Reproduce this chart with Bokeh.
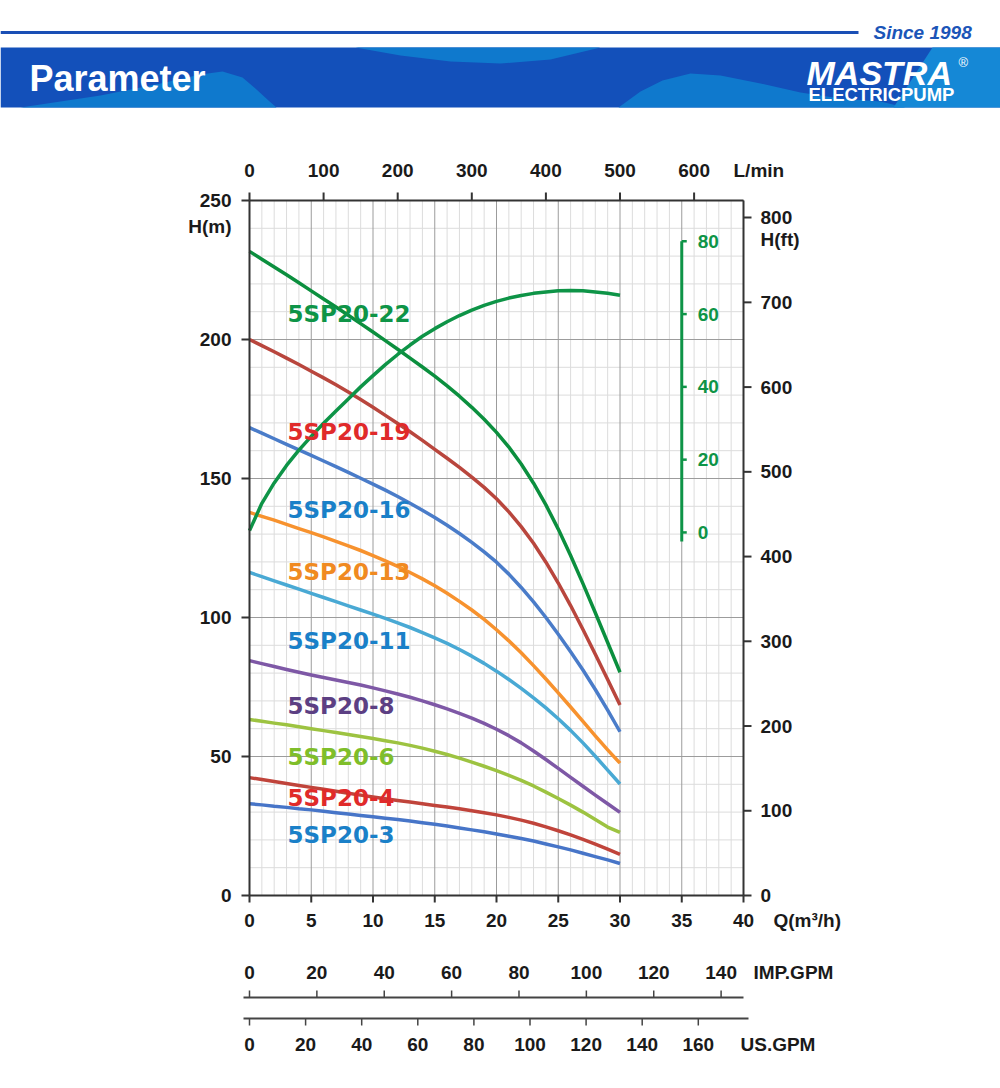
from bokeh.plotting import figure
from bokeh.models import Range1d
from bokeh.embed import file_html
from bokeh.resources import INLINE
from bokeh.core.properties import value

# ---------------- data ----------------
flow = list(range(0, 31))  # Q, m3/h
head_22 = [231.7, 228.9, 226.1, 223.3, 220.4, 217.5, 214.6, 211.7, 208.7, 205.7, 202.7, 199.6, 196.5, 193.3, 190.1, 186.8,
           183.3, 179.6, 175.6, 171.3, 166.6, 161.3, 155.2, 148.3, 140.5, 131.8, 122.3, 112.2, 101.7, 91.0, 80.3]
head_19 = [200.0, 197.8, 195.6, 193.3, 191.0, 188.6, 186.2, 183.7, 181.1, 178.4, 175.6, 172.7, 169.8, 166.8, 163.7, 160.5,
           157.3, 154.0, 150.5, 146.8, 142.7, 138.0, 132.7, 126.7, 119.9, 112.4, 104.3, 95.7, 86.8, 77.7, 68.5]
head_16 = [168.3, 166.3, 164.3, 162.3, 160.3, 158.3, 156.3, 154.3, 152.2, 150.1, 148.0, 145.8, 143.5, 141.1, 138.6, 136.0,
           133.2, 130.2, 127.0, 123.6, 119.9, 115.6, 110.8, 105.6, 100.0, 94.0, 87.7, 81.1, 74.1, 66.7, 58.9]
head_13 = [137.8, 136.4, 135.0, 133.5, 132.0, 130.5, 129.0, 127.4, 125.8, 124.1, 122.3, 120.4, 118.4, 116.2, 113.9, 111.4,
           108.7, 105.8, 102.7, 99.3, 95.6, 91.6, 87.3, 82.7, 77.9, 72.9, 67.8, 62.6, 57.4, 52.4, 47.6]
head_11 = [116.2, 114.7, 113.2, 111.7, 110.2, 108.7, 107.2, 105.7, 104.2, 102.7, 101.2, 99.7, 98.1, 96.4, 94.6, 92.7,
           90.7, 88.5, 86.1, 83.5, 80.7, 77.7, 74.5, 71.1, 67.5, 63.6, 59.4, 54.9, 50.1, 45.1, 40.1]
head_8 = [84.5, 83.4, 82.4, 81.3, 80.3, 79.3, 78.4, 77.5, 76.6, 75.7, 74.7, 73.6, 72.5, 71.3, 70.0, 68.6,
          67.1, 65.5, 63.8, 61.9, 59.8, 57.5, 54.9, 52.0, 48.9, 45.7, 42.5, 39.3, 36.1, 33.0, 29.9]
head_6 = [63.3, 62.7, 62.0, 61.4, 60.7, 60.0, 59.3, 58.6, 57.9, 57.2, 56.5, 55.7, 54.9, 54.0, 53.0, 51.9,
          50.7, 49.4, 48.0, 46.5, 44.9, 43.2, 41.4, 39.4, 37.2, 34.9, 32.5, 30.0, 27.3, 24.6, 22.7]
head_4 = [42.4, 41.7, 41.0, 40.3, 39.6, 38.9, 38.2, 37.5, 36.8, 36.1, 35.4, 34.8, 34.2, 33.6, 33.0, 32.4,
          31.8, 31.2, 30.5, 29.8, 29.0, 28.1, 27.1, 26.0, 24.7, 23.3, 21.8, 20.2, 18.5, 16.7, 14.8]
head_3 = [33.0, 32.6, 32.1, 31.7, 31.2, 30.8, 30.3, 29.8, 29.3, 28.8, 28.3, 27.8, 27.3, 26.8, 26.2, 25.6,
          25.0, 24.3, 23.6, 22.9, 22.1, 21.3, 20.5, 19.6, 18.5, 17.5, 16.4, 15.2, 14.0, 12.8, 11.5]
efficiency = [0.5, 8.0, 13.6, 18.4, 22.6, 26.4, 30.0, 33.4, 36.7, 40.0, 43.1, 46.1, 48.9, 51.5, 53.9, 56.0,
              57.9, 59.6, 61.1, 62.4, 63.5, 64.4, 65.1, 65.7, 66.1, 66.4, 66.5, 66.4, 66.1, 65.7, 65.2]  # %

models = ["5SP20-22", "5SP20-19", "5SP20-16", "5SP20-13", "5SP20-11", "5SP20-8", "5SP20-6", "5SP20-4", "5SP20-3"]
heads = [head_22, head_19, head_16, head_13, head_11, head_8, head_6, head_4, head_3]

q_ticks = [0, 5, 10, 15, 20, 25, 30, 35, 40]
h_ticks = [0, 50, 100, 150, 200, 250]
ft_ticks = [0, 100, 200, 300, 400, 500, 600, 700, 800]
lmin_ticks = [0, 100, 200, 300, 400, 500, 600]
eff_ticks = [0, 20, 40, 60, 80]
imp_ticks = [0, 20, 40, 60, 80, 100, 120, 140]
us_ticks = [0, 20, 40, 60, 80, 100, 120, 140, 160]

# unit conversions
M_TO_FT = 1 / 0.3048
M3H_TO_LMIN = 1000 / 60
M3H_TO_IMP = 3.6662
M3H_TO_US = 4.4029

# ---------------- layout & styles ----------------
W, H = 1000, 1088
Q0, Q1, H0, H1 = 0, 40, 0, 250
BOX_L, BOX_R, BOX_T, BOX_B = 249, 743, 200, 895       # plot box on the page (px)
PXQ = (BOX_R - BOX_L) / (Q1 - Q0)
PXH = (BOX_B - BOX_T) / (H1 - H0)
q_lo, q_hi = Q0 - BOX_L / PXQ, Q0 + (W - BOX_L) / PXQ
h_lo, h_hi = H0 - (H - BOX_B) / PXH, H0 + BOX_B / PXH

EFF_ZERO_H, H_PER_EFF = 130.6, 1.309   # where the efficiency scale sits
EFF_AXIS_Q = 35

line_colors = ["#0b8f3e", "#b9463d", "#4a7cc9", "#f7922e", "#49a9d4", "#7e58a6", "#9dc341", "#c0443b", "#4775c8"]
label_colors = ["#0e9447", "#e02a2a", "#1a80c8", "#f08a21", "#1a80c8", "#5c3f83", "#7fbe2a", "#e02a2a", "#1a80c8"]
label_y = [209.0, 166.9, 138.8, 116.3, 91.7, 68.0, 49.7, 34.9, 21.9]
LABEL_X_PX = 287
GREEN = "#0e9447"
AX = "#333333"
TXT = "#1a1a1a"
FONT = "Liberation Sans"
FS = "19px"

p = figure(width=W, height=H, x_range=Range1d(q_lo, q_hi), y_range=Range1d(h_lo, h_hi),
           x_axis_type=None, y_axis_type=None, toolbar_location=None, output_backend="svg",
           min_border=0, outline_line_color=None, background_fill_color="white")
p.extra_x_ranges = {
    "px": Range1d(0, W),
    "lmin": Range1d(q_lo * M3H_TO_LMIN, q_hi * M3H_TO_LMIN),
    "imp": Range1d(q_lo * M3H_TO_IMP, q_hi * M3H_TO_IMP),
    "us": Range1d(q_lo * M3H_TO_US, q_hi * M3H_TO_US),
}
p.extra_y_ranges = {
    "px": Range1d(H, 0),
    "ft": Range1d(h_lo * M_TO_FT, h_hi * M_TO_FT),
    "eff": Range1d((h_lo - EFF_ZERO_H) / H_PER_EFF, (h_hi - EFF_ZERO_H) / H_PER_EFF),
}


def txt(x, y, s, xr="default", yr="default", color=TXT, size=FS, style="bold", align="left", font=FONT):
    p.text(x=x, y=y, text=s, x_range_name=xr, y_range_name=yr, text_color=color, text_font=value(font),
           text_font_size=size, text_font_style=style, text_align=align, text_baseline="middle")


# ---------------- header banner ----------------
p.segment(x0=[0], y0=[32], x1=[858], y1=[32], x_range_name="px", y_range_name="px", line_color="#1a4fb5", line_width=3)
txt([873], [32], ["Since 1998"], "px", "px", color="#1b55b8", style="bold italic")
p.quad(left=[0], right=[W], top=[47], bottom=[107], x_range_name="px", y_range_name="px",
       fill_color="#1350ba", line_color=None)
hill_x = [20, 100, 160, 200, 222, 242, 256, 268, 276]
hill_y = [107, 95, 83, 74, 71, 77, 89, 100, 107]
lens_x = [355, 400, 450, 500, 550, 600]
lens_y = [47, 55, 61, 63, 59, 47]
wave_x = [618, 640, 662, 690, 720, 760, 800, 840, 880, 905]
wave_y = [107, 91, 80, 73, 75, 83, 92, 98, 101, 107]
p.patches(xs=[hill_x, lens_x, wave_x], ys=[hill_y, lens_y, wave_y], x_range_name="px", y_range_name="px",
          fill_color="#0f79cd", line_color=None)
p.patch(x=[932, W, W, 893], y=[47, 47, 107, 107], x_range_name="px", y_range_name="px",
        fill_color="#1588d6", line_color=None)
txt([29], [78], ["Parameter"], "px", "px", color="white", size="36px")
txt([806], [72], ["MASTRA"], "px", "px", color="white", size="34px", style="bold italic")
txt([808], [94], ["ELECTRICPUMP"], "px", "px", color="white", size="18.5px")
txt([958], [62], ["®"], "px", "px", color="white", size="13px", style="normal")

# ---------------- grid ----------------
minor_q = [q for q in range(Q0, Q1 + 1) if q % 5]
minor_h = [h for h in range(H0, H1 + 1, 10) if h % 50]
major_q = q_ticks
major_h = h_ticks
p.segment(x0=minor_q, y0=[H0] * len(minor_q), x1=minor_q, y1=[H1] * len(minor_q), line_color="#dcdcdc", line_width=1)
p.segment(x0=[Q0] * len(minor_h), y0=minor_h, x1=[Q1] * len(minor_h), y1=minor_h, line_color="#dcdcdc", line_width=1)
p.segment(x0=major_q, y0=[H0] * len(major_q), x1=major_q, y1=[H1] * len(major_q), line_color="#9c9c9c", line_width=1)
p.segment(x0=[Q0] * len(major_h), y0=major_h, x1=[Q1] * len(major_h), y1=major_h, line_color="#9c9c9c", line_width=1)

# ---------------- curves ----------------
for hd, c in zip(heads, line_colors):
    p.line(flow, hd, line_color=c, line_width=3.5, line_join="round")
p.line(flow, efficiency, y_range_name="eff", line_color=GREEN, line_width=3.5, line_join="round")

# efficiency scale
tick_q = 5 / PXQ
p.segment(x0=[EFF_AXIS_Q], y0=[-2.5], x1=[EFF_AXIS_Q], y1=[eff_ticks[-1]], y_range_name="eff",
          line_color=GREEN, line_width=3)
p.segment(x0=[EFF_AXIS_Q] * len(eff_ticks), y0=eff_ticks, x1=[EFF_AXIS_Q + tick_q] * len(eff_ticks), y1=eff_ticks,
          y_range_name="eff", line_color=GREEN, line_width=2.5)
txt([EFF_AXIS_Q + 16 / PXQ] * len(eff_ticks), eff_ticks, [str(t) for t in eff_ticks], yr="eff", color=GREEN)

# curve labels
p.text(x=[LABEL_X_PX] * len(models), y=label_y, text=models, x_range_name="px", text_color=label_colors,
       text_font=value("DejaVu Sans"), text_font_style="bold", text_font_size="23px",
       text_baseline="middle", text_align="left")

# ---------------- axes ----------------
# frame
p.segment(x0=[Q0, Q0, Q0, Q1], y0=[H0, H1, H0, H0], x1=[Q0, Q1, Q1, Q1], y1=[H1, H1, H0, H1],
          line_color=AX, line_width=2)
# left: H (m)
p.segment(x0=[BOX_L - 8] * len(h_ticks), y0=h_ticks, x1=[BOX_L] * len(h_ticks), y1=h_ticks,
          x_range_name="px", line_color=AX, line_width=2)
txt([BOX_L - 18] * len(h_ticks), h_ticks, [str(t) for t in h_ticks], xr="px", align="right")
txt([BOX_L - 18], [BOX_T + 26], ["H(m)"], "px", "px", align="right")
# right: H (ft)
p.segment(x0=[BOX_R] * len(ft_ticks), y0=ft_ticks, x1=[BOX_R + 8] * len(ft_ticks), y1=ft_ticks,
          x_range_name="px", y_range_name="ft", line_color=AX, line_width=2)
txt([BOX_R + 17] * len(ft_ticks), ft_ticks, [str(t) for t in ft_ticks], xr="px", yr="ft")
txt([BOX_R + 17], [239], ["H(ft)"], "px", "px")
# top: L/min
p.segment(x0=lmin_ticks, y0=[BOX_T - 8] * len(lmin_ticks), x1=lmin_ticks, y1=[BOX_T] * len(lmin_ticks),
          x_range_name="lmin", y_range_name="px", line_color=AX, line_width=2)
txt(lmin_ticks, [BOX_T - 30] * len(lmin_ticks), [str(t) for t in lmin_ticks], xr="lmin", yr="px", align="center")
txt([733], [BOX_T - 30], ["L/min"], "px", "px")
# bottom: Q (m3/h)
p.segment(x0=q_ticks, y0=[BOX_B] * len(q_ticks), x1=q_ticks, y1=[BOX_B + 7] * len(q_ticks),
          y_range_name="px", line_color=AX, line_width=2)
txt(q_ticks, [BOX_B + 25] * len(q_ticks), [str(t) for t in q_ticks], yr="px", align="center")
txt([773], [BOX_B + 25], ["Q(m³/h)"], "px", "px")
# IMP.GPM scale
IMP_Y = 997
p.segment(x0=[BOX_L - 6], y0=[IMP_Y], x1=[BOX_R], y1=[IMP_Y], x_range_name="px", y_range_name="px",
          line_color="#444444", line_width=2)
p.segment(x0=imp_ticks, y0=[IMP_Y - 7] * len(imp_ticks), x1=imp_ticks, y1=[IMP_Y] * len(imp_ticks),
          x_range_name="imp", y_range_name="px", line_color="#444444", line_width=1.5)
txt(imp_ticks, [IMP_Y - 25] * len(imp_ticks), [str(t) for t in imp_ticks], xr="imp", yr="px", align="center")
txt([753], [IMP_Y - 25], ["IMP.GPM"], "px", "px")
# US.GPM scale
US_Y = 1018
p.segment(x0=[BOX_L - 6], y0=[US_Y], x1=[BOX_R + 5], y1=[US_Y], x_range_name="px", y_range_name="px",
          line_color="#444444", line_width=2)
p.segment(x0=us_ticks, y0=[US_Y] * len(us_ticks), x1=us_ticks, y1=[US_Y + 7] * len(us_ticks),
          x_range_name="us", y_range_name="px", line_color="#444444", line_width=1.5)
txt(us_ticks, [US_Y + 26] * len(us_ticks), [str(t) for t in us_ticks], xr="us", yr="px", align="center")
txt([740], [US_Y + 26], ["US.GPM"], "px", "px")

open("out.html", "w").write(file_html(p, INLINE))
